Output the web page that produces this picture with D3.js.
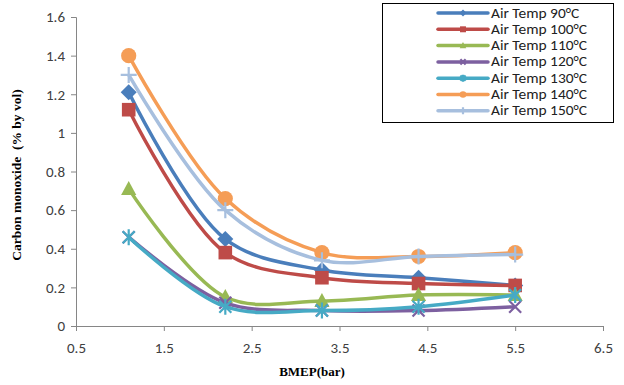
<!DOCTYPE html>
<html><head><meta charset="utf-8">
<script src="https://cdn.jsdelivr.net/npm/d3@7"></script>
<style>body{margin:0;background:#fff}svg{display:block}</style>
</head><body>
<svg id="c" width="624" height="385"></svg>
<script>
const bmep = [1.1, 2.2, 3.3, 4.4, 5.5];
const seriesNames = ["Air Temp 90°C","Air Temp 100°C","Air Temp 110°C","Air Temp 120°C","Air Temp 130°C","Air Temp 140°C","Air Temp 150°C"];
const t90  = [1.21, 0.45, 0.29, 0.25, 0.21];
const t100 = [1.12, 0.38, 0.25, 0.22, 0.21];
const t110 = [0.71, 0.15, 0.13, 0.16, 0.16];
const t120 = [0.46, 0.12, 0.08, 0.08, 0.10];
const t130 = [0.46, 0.10, 0.08, 0.10, 0.16];
const t140 = [1.40, 0.66, 0.38, 0.36, 0.38];
const t150 = [1.30, 0.60, 0.34, 0.36, 0.37];
const xTicks = [0.5, 1.5, 2.5, 3.5, 4.5, 5.5, 6.5];
const yTicks = [0, 0.2, 0.4, 0.6, 0.8, 1, 1.2, 1.4, 1.6];

const values = [t90, t100, t110, t120, t130, t140, t150];
const colors = ["#4A7EBB","#BE4B48","#98B954","#7D60A0","#46AAC5","#F59D56","#A7BFDE"];
const markers = ["diamond","square","triangle","x","asterisk","circle","plus"];

const svg = d3.select("#c");
const x = d3.scaleLinear().domain([0.5, 6.5]).range([76, 603]);
const y = d3.scaleLinear().domain([0, 1.6]).range([326, 17]);
const axisColor = "#868686";
const tickFont = "Carlito, 'Liberation Sans', Arial, sans-serif";

// axes
const gx = svg.append("g").attr("transform", `translate(0,${y(0)})`)
  .call(d3.axisBottom(x).tickValues(xTicks).tickFormat(d3.format(".1f")).tickSize(5).tickPadding(11));
const gy = svg.append("g").attr("transform", `translate(${x(0.5)},0)`)
  .call(d3.axisLeft(y).tickValues(yTicks).tickFormat(d => d === 0 || d === 1 ? String(d) : d3.format(".1f")(d)).tickSize(5).tickPadding(6));
[gx, gy].forEach(g => {
  g.select(".domain").attr("stroke", axisColor);
  g.selectAll(".tick line").attr("stroke", axisColor);
  g.selectAll(".tick text").attr("fill", "#404040").style("font-family", tickFont).style("font-size", "15px");
});

// titles
svg.append("text").attr("x", 312).attr("y", 376).attr("text-anchor", "middle")
  .style("font-family", "'Liberation Serif', 'Times New Roman', serif").style("font-weight", "bold").style("font-size", "13px")
  .text("BMEP(bar)");
svg.append("text").attr("transform", "translate(21,175) rotate(-90)").attr("text-anchor", "middle")
  .style("font-family", "'Liberation Serif', 'Times New Roman', serif").style("font-weight", "bold").style("font-size", "13.5px")
  .attr("xml:space", "preserve").text("Carbon monoxide  (% by vol)");

function drawMarker(g, type, cx, cy, color, s) {
  switch (type) {
    case "diamond":
      g.append("path").attr("d", `M${cx},${cy-s}L${cx+s},${cy}L${cx},${cy+s}L${cx-s},${cy}Z`).attr("fill", color); break;
    case "square":
      g.append("rect").attr("x", cx - s*0.85).attr("y", cy - s*0.85).attr("width", s*1.7).attr("height", s*1.7).attr("fill", color); break;
    case "triangle":
      g.append("path").attr("d", `M${cx},${cy-s}L${cx+s*0.95},${cy+s*0.75}L${cx-s*0.95},${cy+s*0.75}Z`).attr("fill", color); break;
    case "circle":
      g.append("circle").attr("cx", cx).attr("cy", cy).attr("r", s*0.95).attr("fill", color); break;
    case "x":
      g.append("path").attr("d", `M${cx-s*0.75},${cy-s*0.75}L${cx+s*0.75},${cy+s*0.75}M${cx+s*0.75},${cy-s*0.75}L${cx-s*0.75},${cy+s*0.75}`)
        .attr("stroke", color).attr("stroke-width", 2.2); break;
    case "asterisk":
      g.append("path").attr("d", `M${cx-s*0.75},${cy-s*0.75}L${cx+s*0.75},${cy+s*0.75}M${cx+s*0.75},${cy-s*0.75}L${cx-s*0.75},${cy+s*0.75}M${cx},${cy-s}L${cx},${cy+s}`)
        .attr("stroke", color).attr("stroke-width", 2.2); break;
    case "plus":
      g.append("path").attr("d", `M${cx-s},${cy}L${cx+s},${cy}M${cx},${cy-s}L${cx},${cy+s}`)
        .attr("stroke", color).attr("stroke-width", 2.2); break;
  }
}

const line = d3.line().x((d, i) => x(bmep[i])).y(d => y(d)).curve(d3.curveCatmullRom.alpha(0.5));
values.forEach((vals, k) => {
  const g = svg.append("g");
  g.append("path").datum(vals).attr("d", line).attr("fill", "none")
    .attr("stroke", colors[k]).attr("stroke-width", 3.5).attr("stroke-linejoin", "round");
  vals.forEach((v, i) => drawMarker(g, markers[k], x(bmep[i]), y(v), colors[k], 8));
});

// legend
const lg = svg.append("g");
lg.append("rect").attr("x", 382.5).attr("y", 3.5).attr("width", 231).attr("height", 119)
  .attr("fill", "#fff").attr("stroke", "#000").attr("stroke-width", 1);
seriesNames.forEach((name, k) => {
  const ly = 13 + k * 16.3;
  lg.append("line").attr("x1", 438).attr("x2", 488).attr("y1", ly).attr("y2", ly)
    .attr("stroke", colors[k]).attr("stroke-width", 3.5).attr("stroke-linecap", "round");
  drawMarker(lg, markers[k], 463, ly, colors[k], 3.5);
  lg.append("text").attr("transform", `translate(491,${ly + 4.5}) scale(1.17,1)`)
    .style("font-family", tickFont).style("font-size", "13.2px")
    .attr("fill", "#222").text(name);
});
</script>
</body></html>
